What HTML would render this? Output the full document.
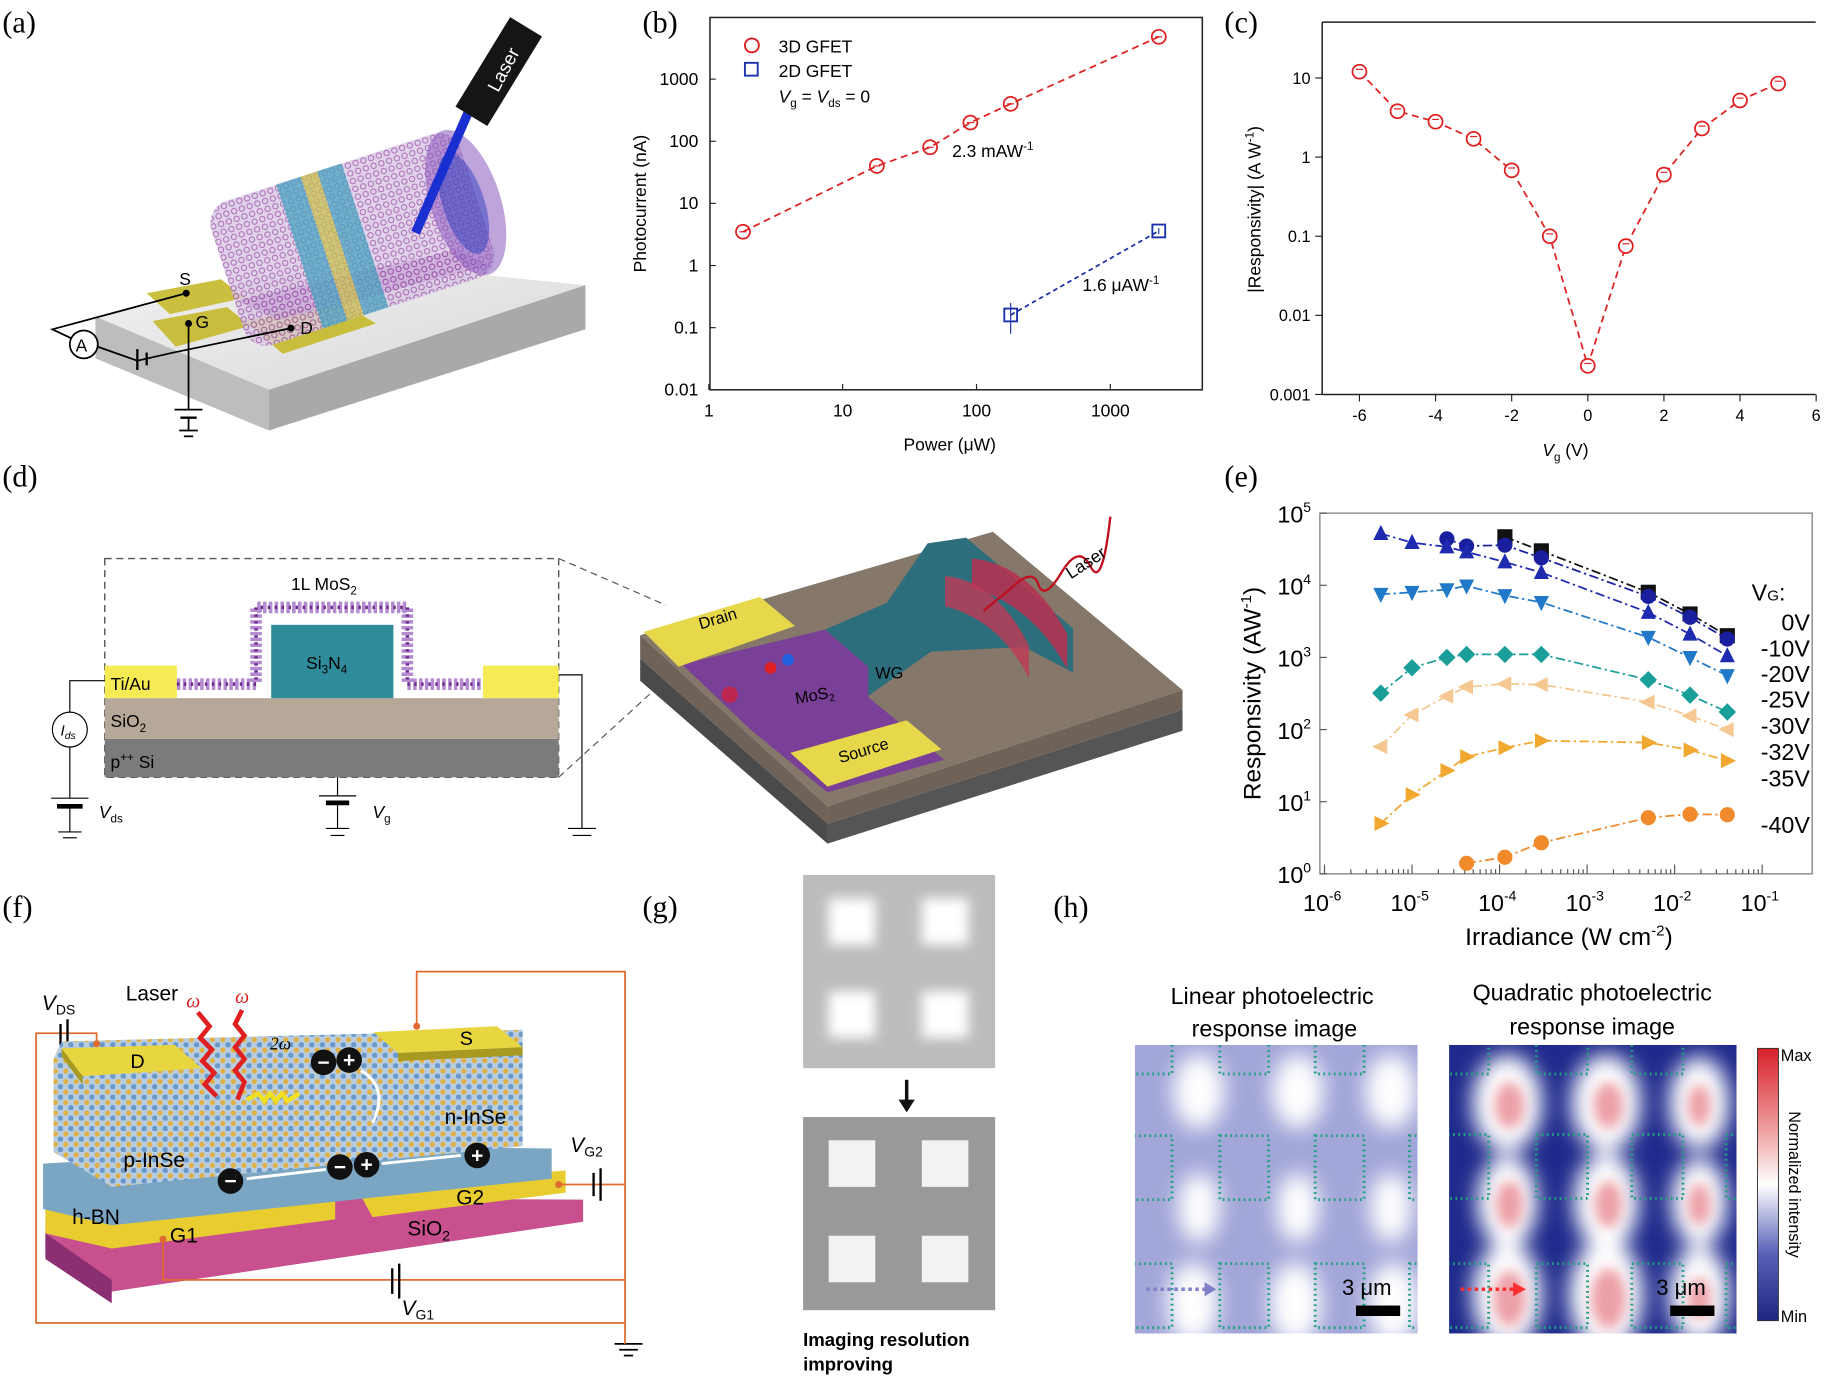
<!DOCTYPE html>
<html><head><meta charset="utf-8">
<style>
html,body{margin:0;padding:0;background:#fff;}
svg{display:block;font-family:"Liberation Sans",sans-serif;}
.lbl{font-family:"Liberation Serif",serif;font-size:26px;}
</style></head>
<body>
<svg id="fig" width="1825" height="1380" viewBox="0 0 1568 1186" preserveAspectRatio="none" xmlns="http://www.w3.org/2000/svg">
<defs>
<filter id="blur4"><feGaussianBlur stdDeviation="5"/></filter>
<filter id="blur8"><feGaussianBlur stdDeviation="9"/></filter>
<linearGradient id="cbar" x1="0" y1="0" x2="0" y2="1">
<stop offset="0" stop-color="#d8202a"/><stop offset="0.3" stop-color="#eea0a0"/><stop offset="0.5" stop-color="#ffffff"/><stop offset="0.75" stop-color="#5a63b8"/><stop offset="1" stop-color="#1c2682"/></linearGradient>
<linearGradient id="slab" x1="0" y1="0" x2="1" y2="1"><stop offset="0" stop-color="#f2f2f2"/><stop offset="1" stop-color="#d8d8d8"/></linearGradient>
<pattern id="hex" width="7" height="7" patternUnits="userSpaceOnUse"><rect width="7" height="7" fill="#d8c8e4"/><circle cx="3.5" cy="3.5" r="2.3" fill="none" stroke="#9a4aa8" stroke-width="0.9"/></pattern>
<pattern id="latt" width="9" height="9" patternUnits="userSpaceOnUse"><rect width="9" height="9" fill="#b9cde0"/><circle cx="2.5" cy="2.5" r="2.2" fill="#e0b040"/><circle cx="7" cy="7" r="2.4" fill="#6a98c8"/></pattern>
</defs>

<!-- Panel labels -->
<text class="lbl" x="2" y="28">(a)</text>
<text class="lbl" x="552" y="28">(b)</text>
<text class="lbl" x="1052" y="28">(c)</text>
<text class="lbl" x="2" y="418">(d)</text>
<text class="lbl" x="1052" y="418">(e)</text>
<text class="lbl" x="2" y="788">(f)</text>
<text class="lbl" x="552" y="788">(g)</text>
<text class="lbl" x="905" y="788">(h)</text>

<!-- Panel a illustration -->
<g>
<polygon points="82,272 300,225 503,245 231,335" fill="url(#slab)"/>
<polygon points="82,272 231,335 231,370 82,308" fill="#bdbdbd"/>
<polygon points="231,335 503,245 503,283 231,370" fill="#a9a9a9"/>
<polygon points="126,252 190,240 210,256 146,270" fill="#cbbf40"/>
<polygon points="131,276 195,264 215,280 151,298" fill="#c9bd3e"/>
<polygon points="210,276 290,258 323,278 243,304" fill="#c9bd3e"/>
<polygon points="205,258 390,215 420,228 240,275" fill="#8a2f9a" opacity="0.75"/>
<g transform="rotate(-18 305 205)">
<rect x="190" y="140" width="225" height="130" rx="20" fill="url(#hex)" opacity="0.8"/>
<rect x="255" y="140" width="22" height="130" fill="#4aa3c0" opacity="0.75"/>
<rect x="277" y="140" width="15" height="130" fill="#c8c050" opacity="0.75"/>
<rect x="292" y="140" width="22" height="130" fill="#4aa3c0" opacity="0.75"/>
<ellipse cx="405" cy="205" rx="30" ry="65" fill="#8a5ac0" opacity="0.55"/>
<ellipse cx="403" cy="205" rx="18" ry="45" fill="#3040c0" opacity="0.5"/>
</g>
<line x1="403" y1="95" x2="357" y2="200" stroke="#1a2fd0" stroke-width="8"/>
<line x1="452" y1="23" x2="405" y2="100" stroke="#151515" stroke-width="32"/>
<text x="0" y="0" font-size="16" fill="#fff" transform="translate(428 80) rotate(-62)">Laser</text>
<polyline points="160,252 45,283 66,293" fill="none" stroke="#000" stroke-width="1.5"/>
<polyline points="162,278 162,352" fill="none" stroke="#000" stroke-width="1.5"/>
<polyline points="84,298 118,310 149,303 250,282" fill="none" stroke="#000" stroke-width="1.5"/>
<line x1="118" y1="300" x2="118" y2="318" stroke="#000" stroke-width="2"/>
<line x1="126" y1="303" x2="126" y2="314" stroke="#000" stroke-width="2"/>
<circle cx="72" cy="296" r="12" fill="#fff" stroke="#000" stroke-width="1.5"/>
<text x="65" y="302" font-size="15">A</text>
<line x1="150" y1="352" x2="174" y2="352" stroke="#000" stroke-width="1.5"/>
<line x1="155" y1="359" x2="169" y2="359" stroke="#000" stroke-width="2"/>
<line x1="162" y1="359" x2="162" y2="370" stroke="#000" stroke-width="1.5"/>
<line x1="154" y1="370" x2="170" y2="370" stroke="#000" stroke-width="1.5"/>
<line x1="158" y1="375" x2="166" y2="375" stroke="#000" stroke-width="1.5"/>
<circle cx="160" cy="252" r="3"/><circle cx="162" cy="278" r="3"/><circle cx="250" cy="282" r="3"/>
<text x="154" y="245" font-size="15">S</text><text x="168" y="282" font-size="15">G</text><text x="258" y="287" font-size="15">D</text>
</g>

<!-- Panel b chart -->
<g id="chartB">
<rect x="610" y="15" width="423" height="320" fill="none" stroke="#222" stroke-width="1.3"/>
<text x="0" y="0" font-size="15" transform="translate(555 175) rotate(-90)" text-anchor="middle">Photocurrent (nA)</text>
<text x="816" y="387" font-size="15" text-anchor="middle">Power (μW)</text>
<g>
<circle cx="646" cy="39" r="6" fill="none" stroke="#e02020" stroke-width="1.6"/>
<text x="669" y="45" font-size="15">3D GFET</text>
<rect x="640" y="54" width="11" height="11" fill="none" stroke="#1a2faa" stroke-width="1.6"/>
<text x="669" y="66" font-size="15">2D GFET</text>
<text x="669" y="88" font-size="15"><tspan font-style="italic">V</tspan><tspan font-size="10" dy="4">g</tspan><tspan dy="-4"> = </tspan><tspan font-style="italic">V</tspan><tspan font-size="10" dy="4">ds</tspan><tspan dy="-4"> = 0</tspan></text>
</g>
<text x="818" y="135" font-size="15">2.3 mAW<tspan font-size="10" dy="-6">-1</tspan></text>
<text x="930" y="250" font-size="15">1.6 μAW<tspan font-size="10" dy="-6">-1</tspan></text>
</g>

<!-- Panel c chart -->
<g id="chartC">
<line x1="1136" y1="19" x2="1560" y2="19" stroke="#222" stroke-width="1.3"/>
<line x1="1136" y1="19" x2="1136" y2="339" stroke="#222" stroke-width="1.3"/>
<line x1="1136" y1="339" x2="1560" y2="339" stroke="#222" stroke-width="1.3"/>
<text x="0" y="0" font-size="15" transform="translate(1083 180) rotate(-90)" text-anchor="middle">|Responsivity| (A W<tspan font-size="10" dy="-6">-1</tspan><tspan dy="6">)</tspan></text>
<text x="1345" y="392" font-size="15" text-anchor="middle"><tspan font-style="italic">V</tspan><tspan font-size="10" dy="4">g</tspan><tspan dy="-4"> (V)</tspan></text>
</g>

<!-- Panel d illustration -->
<g>
<rect x="90" y="480" width="390" height="188" fill="none" stroke="#555" stroke-width="1.2" stroke-dasharray="6 4"/>
<line x1="480" y1="480" x2="572" y2="520" stroke="#555" stroke-dasharray="6 4"/>
<line x1="480" y1="668" x2="560" y2="595" stroke="#555" stroke-dasharray="6 4"/>
<rect x="90" y="635" width="390" height="33" fill="#7b7b7b"/>
<rect x="90" y="600" width="390" height="35" fill="#b5a898"/>
<rect x="90" y="572" width="62" height="28" fill="#f6ea55"/>
<rect x="415" y="572" width="65" height="28" fill="#f6ea55"/>
<rect x="233" y="537" width="105" height="63" fill="#2f8c9a"/>
<path d="M152,588 L220,588 L220,522 L350,522 L350,588 L415,588" fill="none" stroke="#b48ad0" stroke-width="10" stroke-dasharray="3 2"/>
<path d="M152,588 L220,588 L220,522 L350,522 L350,588 L415,588" fill="none" stroke="#6a2a8a" stroke-width="3" stroke-dasharray="2 4"/>
<text x="250" y="507" font-size="15">1L MoS<tspan font-size="10" dy="4">2</tspan></text>
<text x="263" y="575" font-size="15">Si<tspan font-size="10" dy="4">3</tspan><tspan dy="-4">N</tspan><tspan font-size="10" dy="4">4</tspan></text>
<text x="95" y="593" font-size="15">Ti/Au</text>
<text x="95" y="625" font-size="15">SiO<tspan font-size="10" dy="4">2</tspan></text>
<text x="95" y="660" font-size="15">p<tspan font-size="10" dy="-6">++</tspan><tspan dy="6"> Si</tspan></text>
<polyline points="90,585 60,585 60,612" fill="none" stroke="#000"/>
<circle cx="60" cy="627" r="15" fill="#fff" stroke="#000"/>
<text x="52" y="632" font-size="13" font-style="italic">I<tspan font-size="9" dy="3">ds</tspan></text>
<line x1="60" y1="642" x2="60" y2="686" stroke="#000"/>
<line x1="44" y1="686" x2="76" y2="686" stroke="#000"/>
<line x1="49" y1="693" x2="71" y2="693" stroke="#000" stroke-width="4"/>
<line x1="60" y1="693" x2="60" y2="715" stroke="#000"/>
<line x1="50" y1="715" x2="70" y2="715" stroke="#000"/><line x1="54" y1="720" x2="66" y2="720" stroke="#000"/>
<text x="85" y="703" font-size="15" font-style="italic">V<tspan font-size="10" dy="4" font-style="normal">ds</tspan></text>
<line x1="290" y1="668" x2="290" y2="684" stroke="#000"/>
<line x1="274" y1="684" x2="306" y2="684" stroke="#000"/>
<line x1="280" y1="690" x2="300" y2="690" stroke="#000" stroke-width="4"/>
<line x1="290" y1="690" x2="290" y2="712" stroke="#000"/>
<line x1="280" y1="712" x2="300" y2="712" stroke="#000"/><line x1="284" y1="718" x2="296" y2="718" stroke="#000"/>
<text x="320" y="703" font-size="15" font-style="italic">V<tspan font-size="10" dy="4" font-style="normal">g</tspan></text>
<polyline points="480,580 500,580 500,712" fill="none" stroke="#000"/>
<line x1="488" y1="712" x2="512" y2="712" stroke="#000"/><line x1="492" y1="718" x2="508" y2="718" stroke="#000"/>
<!-- 3D device -->
<polygon points="550,546 853,457 1016,593 711,693" fill="#85776a"/>
<polygon points="550,546 711,693 711,708 550,566" fill="#6f6359"/>
<polygon points="550,566 711,708 711,725 550,585" fill="#4a4a4a"/>
<polygon points="711,693 1016,593 1016,610 711,708" fill="#6f6359"/>
<polygon points="711,708 1016,610 1016,628 711,725" fill="#555"/>
<polygon points="586,571 709,541 746,573 746,599 811,653 711,681 646,628" fill="#7a3f96"/>
<polygon points="709,541 762,518 797,467 830,462 922,540 922,578 880,556 800,560 746,598 746,573" fill="#2c6e7c"/>
<path d="M835,480 q50,5 82,65 l0,30 q-30,-55 -82,-70z" fill="#b83050" opacity="0.85"/>
<path d="M812,495 q45,5 72,60 l0,28 q-25,-50 -72,-62z" fill="#c03a55" opacity="0.8"/>
<polygon points="553,543 653,513 683,538 583,573" fill="#e6d84a"/>
<polygon points="679,647 779,619 809,644 711,676" fill="#e6d84a"/>
<path d="M867,507 q20,-20 25,-5 q5,15 20,-10 q15,-25 25,-5 q10,20 17,-43" fill="none" stroke="#c01020" stroke-width="2"/>
<line x1="867" y1="507" x2="845" y2="525" stroke="#c01020" stroke-width="2"/>
<text x="0" y="0" font-size="15" transform="translate(920 498) rotate(-33)">Laser</text>
<text x="0" y="0" font-size="14" transform="translate(602 541) rotate(-17)">Drain</text>
<text x="0" y="0" font-size="14" transform="translate(722 656) rotate(-17)">Source</text>
<text x="0" y="0" font-size="14" transform="translate(684 605) rotate(-10)">MoS<tspan font-size="9" dy="3">2</tspan></text>
<text x="752" y="583" font-size="14">WG</text>
<circle cx="662" cy="574" r="5" fill="#e02020"/><circle cx="677" cy="567" r="5" fill="#2060e0"/>
<circle cx="627" cy="597" r="7" fill="#d02040" opacity="0.8"/>
</g>

<!-- Panel e chart -->
<g id="chartE">
<rect x="1134" y="441" width="423" height="310" fill="none" stroke="#888" stroke-width="1.2"/>
<text x="0" y="0" font-size="21" transform="translate(1083 596) rotate(-90)" text-anchor="middle">Responsivity (AW<tspan font-size="13" dy="-8">-1</tspan><tspan dy="8">)</tspan></text>
<text x="1348" y="812" font-size="21" text-anchor="middle">Irradiance (W cm<tspan font-size="13" dy="-8">-2</tspan><tspan dy="8">)</tspan></text>
<text x="1505" y="516" font-size="20">V<tspan font-size="13">G</tspan>:</text>
</g>

<!-- Panel f illustration -->
<g>
<polyline points="83,897 83,888 31,888 31,1137 537,1137 537,835 358,835 358,882" fill="none" stroke="#e06a30" stroke-width="1.5"/>
<line x1="52" y1="880" x2="52" y2="898" stroke="#000" stroke-width="2"/>
<line x1="58" y1="876" x2="58" y2="900" stroke="#000" stroke-width="2"/>
<polygon points="39,1050 290,1030 501,1031 501,1050 96,1110 39,1075" fill="#c8508e"/>
<polygon points="39,1060 96,1100 96,1120 39,1082" fill="#8a2f72"/>
<polygon points="39,1035 288,1022 288,1048 96,1073 39,1060" fill="#e8cc30"/>
<polygon points="306,1020 486,1006 486,1025 320,1046" fill="#e8cc30"/>
<polygon points="37,1000 300,985 474,987 474,1013 96,1053 37,1039" fill="#7aa6c4"/>
<polygon points="53,895 449,885 449,985 96,1020 46,990 46,910" fill="url(#latt)"/>
<polygon points="53,901 150,898 173,918 71,925" fill="#e8d640"/>
<polygon points="53,901 71,925 71,932 53,908" fill="#a89a20"/>
<polygon points="321,887 427,882 449,900 342,905" fill="#e8d640"/>
<polygon points="342,905 449,900 449,907 342,912" fill="#a89a20"/>
<circle cx="83" cy="897" r="3" fill="#e06a30"/><circle cx="358" cy="882" r="3" fill="#e06a30"/>
<text x="112" y="918" font-size="17">D</text><text x="395" y="898" font-size="17">S</text>
<text x="108" y="860" font-size="18">Laser</text>
<path d="M170,870 l10,12 l-8,10 l10,10 l-8,10 l10,10 l-8,10 l10,10" fill="none" stroke="#e02020" stroke-width="4"/>
<path d="M208,868 l-6,12 l8,10 l-8,10 l8,10 l-8,10 l8,10 l-6,15" fill="none" stroke="#e02020" stroke-width="4"/>
<text x="160" y="866" font-size="17" fill="#e02020" font-style="italic" font-family="Liberation Serif">ω</text>
<text x="202" y="862" font-size="17" fill="#e02020" font-style="italic" font-family="Liberation Serif">ω</text>
<text x="232" y="902" font-size="15" font-style="italic" font-family="Liberation Serif">2ω</text>
<path d="M212,945 l10,-5 l5,6 l5,-6 l5,6 l5,-6 l5,6 l10,-6" fill="none" stroke="#f0e020" stroke-width="4"/>
<g font-size="18" font-weight="bold" fill="#fff" text-anchor="middle">
<circle cx="278" cy="913" r="11" fill="#111"/><text x="278" y="919">−</text>
<circle cx="300" cy="911" r="11" fill="#111"/><text x="300" y="917">+</text>
<circle cx="198" cy="1015" r="11" fill="#111"/><text x="198" y="1021">−</text>
<circle cx="292" cy="1003" r="11" fill="#111"/><text x="292" y="1009">−</text>
<circle cx="315" cy="1001" r="11" fill="#111"/><text x="315" y="1007">+</text>
<circle cx="410" cy="993" r="11" fill="#111"/><text x="410" y="999">+</text>
</g>
<path d="M310,920 q25,15 10,45" fill="none" stroke="#fff" stroke-width="2.5"/>
<line x1="212" y1="1013" x2="280" y2="1005" stroke="#fff" stroke-width="2.5"/>
<line x1="328" y1="1000" x2="396" y2="993" stroke="#fff" stroke-width="2.5"/>
<text x="106" y="1003" font-size="18">p-InSe</text>
<text x="382" y="966" font-size="18">n-InSe</text>
<text x="62" y="1052" font-size="18">h-BN</text>
<text x="146" y="1068" font-size="18">G1</text>
<text x="392" y="1035" font-size="18">G2</text>
<text x="350" y="1062" font-size="18">SiO<tspan font-size="12" dy="4">2</tspan></text>
<text x="36" y="868" font-size="18" font-style="italic">V<tspan font-size="12" dy="4" font-style="normal">DS</tspan></text>
<text x="490" y="990" font-size="18" font-style="italic">V<tspan font-size="12" dy="4" font-style="normal">G2</tspan></text>
<text x="345" y="1130" font-size="18" font-style="italic">V<tspan font-size="12" dy="4" font-style="normal">G1</tspan></text>
<polyline points="480,1018 537,1018" stroke="#e06a30" fill="none" stroke-width="1.5"/>
<polyline points="140,1065 140,1100 537,1100" stroke="#e06a30" fill="none" stroke-width="1.5"/>
<circle cx="140" cy="1065" r="3" fill="#e06a30"/><circle cx="480" cy="1018" r="3" fill="#e06a30"/>
<line x1="510" y1="1008" x2="510" y2="1028" stroke="#000" stroke-width="2"/><line x1="516" y1="1004" x2="516" y2="1032" stroke="#000" stroke-width="2"/>
<line x1="337" y1="1090" x2="337" y2="1112" stroke="#000" stroke-width="2"/><line x1="343" y1="1086" x2="343" y2="1116" stroke="#000" stroke-width="2"/>
<line x1="528" y1="1155" x2="552" y2="1155" stroke="#000" stroke-width="1.5"/><line x1="532" y1="1160" x2="548" y2="1160" stroke="#000" stroke-width="1.5"/><line x1="536" y1="1165" x2="544" y2="1165" stroke="#000" stroke-width="1.5"/>
<line x1="537" y1="1137" x2="537" y2="1155" stroke="#e06a30" stroke-width="1.5"/>
</g>

<!-- Panel g -->
<g>
<rect x="690" y="752" width="165" height="166" fill="#bcbcbc"/>
<g fill="#fff" filter="url(#blur4)">
<rect x="712" y="772" width="40" height="40"/><rect x="792" y="772" width="40" height="40"/>
<rect x="712" y="852" width="40" height="40"/><rect x="792" y="852" width="40" height="40"/>
</g>
<line x1="779" y1="928" x2="779" y2="948" stroke="#111" stroke-width="3"/>
<polygon points="772,945 786,945 779,956" fill="#111"/>
<rect x="690" y="960" width="165" height="166" fill="#999"/>
<g fill="#f2f2f2">
<rect x="712" y="980" width="40" height="40"/><rect x="792" y="980" width="40" height="40"/>
<rect x="712" y="1062" width="40" height="40"/><rect x="792" y="1062" width="40" height="40"/>
</g>
<text x="690" y="1157" font-size="16" font-weight="bold">Imaging resolution</text>
<text x="690" y="1178" font-size="16" font-weight="bold">improving</text>
</g>

<!-- Panel h -->
<g>
<text x="1093" y="863" font-size="20" text-anchor="middle">Linear photoelectric</text>
<text x="1095" y="891" font-size="20" text-anchor="middle">response image</text>
<text x="1368" y="860" font-size="20" text-anchor="middle">Quadratic photoelectric</text>
<text x="1368" y="889" font-size="20" text-anchor="middle">response image</text>
<svg x="975" y="898" width="243" height="248" overflow="hidden">
<rect width="243" height="248" fill="#a2a6d8"/>
<g fill="#ffffff" filter="url(#blur8)">
<ellipse cx="55" cy="40" rx="22" ry="32"/><ellipse cx="140" cy="40" rx="22" ry="32"/><ellipse cx="220" cy="40" rx="22" ry="32"/>
<ellipse cx="55" cy="140" rx="18" ry="30"/><ellipse cx="140" cy="140" rx="18" ry="30"/><ellipse cx="220" cy="140" rx="18" ry="30"/>
<ellipse cx="50" cy="222" rx="22" ry="35"/><ellipse cx="138" cy="222" rx="22" ry="35"/><ellipse cx="222" cy="222" rx="22" ry="35"/>
</g>
<g fill="none" stroke="#1fa080" stroke-width="2.5" stroke-dasharray="1.5 3">
<rect x="73" y="78" width="42" height="55"/><rect x="155" y="78" width="42" height="55"/>
<rect x="73" y="188" width="42" height="55"/><rect x="155" y="188" width="42" height="55"/>
<rect x="-10" y="78" width="42" height="55"/><rect x="-10" y="188" width="42" height="55"/><rect x="236" y="78" width="42" height="55"/><rect x="236" y="188" width="42" height="55"/>
<rect x="73" y="-30" width="42" height="55"/><rect x="155" y="-30" width="42" height="55"/><rect x="-10" y="-30" width="42" height="55"/>
</g>
<text x="178" y="215" font-size="19">3 μm</text>
<rect x="190" y="224" width="38" height="9" fill="#000"/>
<line x1="10" y1="210" x2="60" y2="210" stroke="#8080c8" stroke-width="3" stroke-dasharray="3 3"/>
<polygon points="60,204 70,210 60,216" fill="#8080c8"/>
</svg>
<svg x="1245" y="898" width="247" height="248" overflow="hidden">
<rect width="247" height="248" fill="#1e2a8c"/>
<g fill="#ffffff" filter="url(#blur8)">
<ellipse cx="50" cy="50" rx="30" ry="42"/><ellipse cx="135" cy="50" rx="30" ry="42"/><ellipse cx="215" cy="50" rx="26" ry="40"/>
<ellipse cx="50" cy="135" rx="26" ry="40"/><ellipse cx="135" cy="135" rx="28" ry="42"/><ellipse cx="215" cy="135" rx="24" ry="38"/>
<ellipse cx="50" cy="215" rx="30" ry="45"/><ellipse cx="135" cy="215" rx="32" ry="48"/><ellipse cx="215" cy="215" rx="26" ry="42"/>
</g>
<g fill="#eca0a8" filter="url(#blur4)">
<ellipse cx="52" cy="52" rx="13" ry="20"/><ellipse cx="137" cy="52" rx="13" ry="20"/><ellipse cx="215" cy="52" rx="10" ry="18"/>
<ellipse cx="52" cy="137" rx="12" ry="20"/><ellipse cx="137" cy="137" rx="12" ry="20"/><ellipse cx="215" cy="137" rx="10" ry="18"/>
<ellipse cx="52" cy="218" rx="14" ry="24"/><ellipse cx="137" cy="218" rx="15" ry="26"/><ellipse cx="215" cy="218" rx="10" ry="18"/>
</g>
<g fill="none" stroke="#1fa080" stroke-width="2.5" stroke-dasharray="1.5 3">
<rect x="75" y="77" width="44" height="55"/><rect x="157" y="77" width="44" height="55"/>
<rect x="75" y="188" width="44" height="55"/><rect x="157" y="188" width="44" height="55"/>
<rect x="-10" y="77" width="44" height="55"/><rect x="-10" y="188" width="44" height="55"/><rect x="238" y="77" width="44" height="55"/><rect x="238" y="188" width="44" height="55"/>
<rect x="75" y="-30" width="44" height="55"/><rect x="157" y="-30" width="44" height="55"/><rect x="-10" y="-30" width="44" height="55"/>
</g>
<text x="178" y="215" font-size="19">3 μm</text>
<rect x="190" y="224" width="38" height="9" fill="#000"/>
<line x1="10" y1="210" x2="55" y2="210" stroke="#ff3030" stroke-width="3" stroke-dasharray="3 3"/>
<polygon points="55,204 66,210 55,216" fill="#ff3030"/>
</svg>
<rect x="1510" y="901" width="18" height="234" fill="url(#cbar)" stroke="#333" stroke-width="0.8"/>
<text x="1530" y="912" font-size="14">Max</text>
<text x="1530" y="1136" font-size="14">Min</text>
<text x="0" y="0" font-size="14" transform="translate(1537 1018) rotate(90)" text-anchor="middle">Normalized intensity</text>
</g>

<script>
// ---- Panel b data ----
var bXTicks = [1, 10, 100, 1000];
var bXTickLabels = ["1", "10", "100", "1000"];
var bYTicks = [0.01, 0.1, 1, 10, 100, 1000];
var bYTickLabels = ["0.01", "0.1", "1", "10", "100", "1000"];
var b3dPower = [1.8, 18, 45, 90, 180, 2300];
var b3dCurrent = [3.5, 40, 80, 200, 400, 4800];
var b2dPower = [180, 2300];
var b2dCurrent = [0.16, 3.6];
var b2dErrLow = [0.08, 3.2];
var b2dErrHigh = [0.25, 4.0];
// ---- Panel c data ----
var cVg = [-6, -5, -4, -3, -2, -1, 0, 1, 2, 3, 4, 5];
var cResp = [12, 3.8, 2.8, 1.7, 0.68, 0.1, 0.0023, 0.075, 0.6, 2.3, 5.2, 8.5];
var cXTicks = [-6, -4, -2, 0, 2, 4, 6];
var cYTicks = [0.001, 0.01, 0.1, 1, 10];
var cYTickLabels = ["0.001", "0.01", "0.1", "1", "10"];
// ---- Panel e data ----
var eXTickExp = [-6, -5, -4, -3, -2, -1];
var eYTickExp = [0, 1, 2, 3, 4, 5];
var eSeriesNames = ["0V", "-10V", "-20V", "-25V", "-30V", "-32V", "-35V", "-40V"];
var eX0 = [1.15e-4, 3e-4, 5e-3, 1.5e-2, 4e-2];
var eY0 = [4.7e4, 3e4, 8e3, 4e3, 2e3];
var eX10 = [2.5e-5, 4.2e-5, 1.15e-4, 3e-4, 5e-3, 1.5e-2, 4e-2];
var eY10 = [4.4e4, 3.5e4, 3.6e4, 2.4e4, 7e3, 3.6e3, 1.8e3];
var eXfull = [4.4e-6, 1e-5, 2.5e-5, 4.2e-5, 1.15e-4, 3e-4, 5e-3, 1.5e-2, 4e-2];
var eY20 = [5.2e4, 3.9e4, 3.4e4, 2.9e4, 2.1e4, 1.5e4, 4.2e3, 2.1e3, 1.05e3];
var eY25 = [7.5e3, 8e3, 8.7e3, 9.8e3, 7.2e3, 5.8e3, 1.9e3, 1e3, 560];
var eY30 = [320, 720, 1000, 1100, 1100, 1100, 490, 300, 175];
var eY32 = [58, 160, 290, 390, 430, 420, 240, 155, 100];
var eY35 = [5, 12.5, 27, 42, 56, 70, 66, 52, 37];
var eX40 = [4.2e-5, 1.15e-4, 3e-4, 5e-3, 1.5e-2, 4e-2];
var eY40 = [1.4, 1.7, 2.7, 6, 6.7, 6.6];

var NS = "http://www.w3.org/2000/svg";
function mk(parent, tag, attrs) {
  var el = document.createElementNS(NS, tag);
  for (var k in attrs) el.setAttribute(k, attrs[k]);
  parent.appendChild(el);
  return el;
}
function lg(v) { return Math.log(v) / Math.LN10; }
function powLabel(parent, x, y, exp) {
  var tx = mk(parent, "text", {x: x, y: y, "font-size": 20, "text-anchor": "middle"});
  var t1 = mk(tx, "tspan", {});
  t1.textContent = "10";
  var t2 = mk(tx, "tspan", {"font-size": 12, dy: -9});
  t2.textContent = String(exp);
  return tx;
}

// ---- Panel b ----
var gB = document.getElementById("chartB");
function xb(v) { return 609 + 115 * lg(v); }
function yb(v) { return 335 - 53.4 * (lg(v) + 2); }
bXTicks.forEach(function (t, i) {
  var tk = mk(gB, "line", {x1: xb(t), x2: xb(t), y1: 335, y2: 330, stroke: "#222"});
  
  
  var tx = mk(gB, "text", {x: xb(t), y: 358, "font-size": 15, "text-anchor": "middle"});
  tx.textContent = bXTickLabels[i];
  
  
});
bYTicks.forEach(function (t, i) {
  var tk = mk(gB, "line", {x1: 610, x2: 615, y1: yb(t), y2: yb(t), stroke: "#222"});
  
  
  var tx = mk(gB, "text", {x: 600, y: yb(t) + 5, "font-size": 15, "text-anchor": "end"});
  tx.textContent = bYTickLabels[i];
  
  
});
var p3 = b3dPower.map(function (v, i) { return xb(v) + "," + yb(b3dCurrent[i]); }).join(" ");
var l3 = mk(gB, "polyline", {points: p3, fill: "none", stroke: "#e02020", "stroke-width": 1.5, "stroke-dasharray": "6 4"});


b3dPower.forEach(function (v, i) {
  var c = mk(gB, "circle", {cx: xb(v), cy: yb(b3dCurrent[i]), r: 6, fill: "none", stroke: "#e02020", "stroke-width": 1.5});
  
  
  mk(gB, "line", {x1: xb(v) - 3, x2: xb(v) + 3, y1: yb(b3dCurrent[i]), y2: yb(b3dCurrent[i]), stroke: "#e02020"});
});
var p2 = b2dPower.map(function (v, i) { return xb(v) + "," + yb(b2dCurrent[i]); }).join(" ");
var l2 = mk(gB, "polyline", {points: p2, fill: "none", stroke: "#1a2faa", "stroke-width": 1.5, "stroke-dasharray": "4 3"});


b2dPower.forEach(function (v, i) {
  var e = mk(gB, "line", {x1: xb(v), x2: xb(v), y1: yb(b2dErrLow[i]), y2: yb(b2dErrHigh[i]), stroke: "#1a2faa"});
  
  
  var s = mk(gB, "rect", {x: xb(v) - 5.5, y: yb(b2dCurrent[i]) - 5.5, width: 11, height: 11, fill: "none", stroke: "#1a2faa", "stroke-width": 1.6});
  
  
});

// ---- Panel c ----
var gC = document.getElementById("chartC");
function xc(v) { return 1168 + 32.7 * (v + 6); }
function yc(v) { return 67 + 68 * (1 - lg(v)); }
cXTicks.forEach(function (t) {
  var tk = mk(gC, "line", {x1: xc(t), x2: xc(t), y1: 339, y2: 345, stroke: "#222"});
  
  
  var tx = mk(gC, "text", {x: xc(t), y: 362, "font-size": 14, "text-anchor": "middle"});
  tx.textContent = String(t);
  
  
});
cYTicks.forEach(function (t, i) {
  var tk = mk(gC, "line", {x1: 1130, x2: 1136, y1: yc(t), y2: yc(t), stroke: "#222"});
  
  
  var tx = mk(gC, "text", {x: 1126, y: yc(t) + 5, "font-size": 14, "text-anchor": "end"});
  tx.textContent = cYTickLabels[i];
  
  
});
var pc = cVg.map(function (v, i) { return xc(v) + "," + yc(cResp[i]); }).join(" ");
var lc = mk(gC, "polyline", {points: pc, fill: "none", stroke: "#e02020", "stroke-width": 1.5, "stroke-dasharray": "6 4"});


cVg.forEach(function (v, i) {
  var c = mk(gC, "circle", {cx: xc(v), cy: yc(cResp[i]), r: 6, fill: "#fff", stroke: "#e02020", "stroke-width": 1.5});
  
  
  mk(gC, "line", {x1: xc(v) - 3, x2: xc(v) + 3, y1: yc(cResp[i]) - 2, y2: yc(cResp[i]) - 2, stroke: "#e02020"});
});

// ---- Panel e ----
var gE = document.getElementById("chartE");
function xe(v) { return 1138 + 75.2 * (lg(v) + 6); }
function ye(v) { return 751 - 62 * lg(v); }
eXTickExp.forEach(function (t) {
  var x = xe(Math.pow(10, t));
  var tk = mk(gE, "line", {x1: x, x2: x, y1: 751, y2: 743, stroke: "#555"});
  
  
  for (var m = 2; m < 10 && t < -1; m++) {
    var xm = xe(m * Math.pow(10, t));
    mk(gE, "line", {x1: xm, x2: xm, y1: 751, y2: 747, stroke: "#555"});
  }
  var tx = powLabel(gE, x - 2, 783, t);
  
  
});
eYTickExp.forEach(function (t) {
  var y = ye(Math.pow(10, t));
  var tk = mk(gE, "line", {x1: 1134, x2: 1140, y1: y, y2: y, stroke: "#555"});
  
  
  var tx = powLabel(gE, 1112, y + 8, t);
  
  
});
var eSeries = [
  {xs: eX0, ys: eY0, color: "#111111", m: "square"},
  {xs: eX10, ys: eY10, color: "#1a1fa0", m: "circle"},
  {xs: eXfull, ys: eY20, color: "#1e2ab0", m: "up"},
  {xs: eXfull, ys: eY25, color: "#1f78c8", m: "down"},
  {xs: eXfull, ys: eY30, color: "#1a9e9a", m: "diamond"},
  {xs: eXfull, ys: eY32, color: "#f4c890", m: "left"},
  {xs: eXfull, ys: eY35, color: "#f0a830", m: "right"},
  {xs: eX40, ys: eY40, color: "#f08a2a", m: "circle"}
];
function marker(g, type, x, y, color) {
  var s = 6.5, el;
  if (type === "square") el = mk(g, "rect", {x: x - s, y: y - s, width: 2 * s, height: 2 * s, fill: color});
  else if (type === "circle") el = mk(g, "circle", {cx: x, cy: y, r: s, fill: color});
  else {
    var pts;
    if (type === "up") pts = [[x, y - s - 1], [x - s, y + s - 1], [x + s, y + s - 1]];
    if (type === "down") pts = [[x, y + s + 1], [x - s, y - s + 1], [x + s, y - s + 1]];
    if (type === "left") pts = [[x - s - 1, y], [x + s - 1, y - s], [x + s - 1, y + s]];
    if (type === "right") pts = [[x + s + 1, y], [x - s + 1, y - s], [x - s + 1, y + s]];
    if (type === "diamond") pts = [[x, y - s - 1], [x + s + 1, y], [x, y + s + 1], [x - s - 1, y]];
    el = mk(g, "polygon", {points: pts.map(function (p) { return p.join(","); }).join(" "), fill: color});
  }
  return el;
}
eSeries.forEach(function (s, k) {
  var pts = s.xs.map(function (v, i) { return xe(v) + "," + ye(s.ys[i]); }).join(" ");
  var ln = mk(gE, "polyline", {points: pts, fill: "none", stroke: s.color, "stroke-width": 1.5, "stroke-dasharray": "8 3 2 3"});
  
  
  s.xs.forEach(function (v, i) {
    var mkr = marker(gE, s.m, xe(v), ye(s.ys[i]), s.color);
    
    
  });
});
var legY = [542, 564, 586, 608, 631, 653, 676, 716];
eSeriesNames.forEach(function (n, k) {
  var tx = mk(gE, "text", {x: 1555, y: legY[k], "font-size": 20, "text-anchor": "end"});
  tx.textContent = n;
  
  
});
</script>
</svg>
</body></html>
